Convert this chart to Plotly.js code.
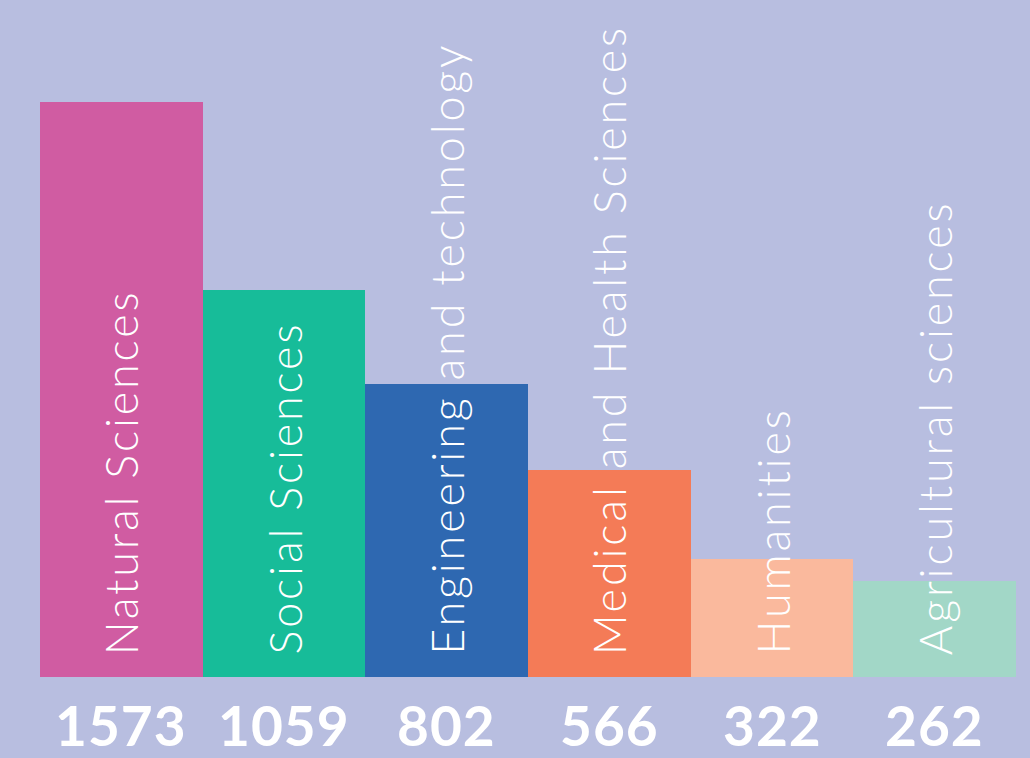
<!DOCTYPE html>
<html>
<head>
<meta charset="utf-8">
<script src="https://cdn.plot.ly/plotly-3.0.1.min.js"></script>
<style>html,body{margin:0;padding:0;background:#B8BEE0;}#chart{width:1030px;height:758px;}</style>
</head>
<body>
<div id="chart"></div>
<script>
const categories = ["Natural Sciences", "Social Sciences", "Engineering and technology", "Medical and Health Sciences", "Humanities", "Agricultural sciences"];
const values = [1573, 1059, 802, 566, 322, 262];
const colors = ["#D05CA2", "#17BC99", "#2E68B1", "#F47B57", "#FAB99D", "#A2D7C7"];

const trace = {
  type: "bar",
  x: categories,
  y: values,
  marker: {color: colors, line: {width: 0}},
  hoverinfo: "none"
};

const annotations = [];
categories.forEach((c, i) => {
  annotations.push({
    x: c, y: 0, xref: "x", yref: "y",
    text: '<span style="letter-spacing:2.8px">' + c + '</span>', textangle: -90, showarrow: false,
    xanchor: "center", yanchor: "bottom", yshift: 20,
    font: {family: "Lato", weight: 300, size: 45, color: "#FFFFFF"}
  });
  annotations.push({
    x: c, y: 0, xref: "x", yref: "y",
    text: '<span style="letter-spacing:1px">' + String(values[i]) + '</span>', showarrow: false,
    xanchor: "center", yanchor: "middle", yshift: -48,
    font: {family: "Lato", weight: 700, size: 55, color: "#FFFFFF"}
  });
});

const layout = {
  width: 1030, height: 758,
  margin: {l: 40, r: 14, t: 0, b: 81},
  paper_bgcolor: "#B8BEE0",
  plot_bgcolor: "#B8BEE0",
  bargap: 0,
  showlegend: false,
  xaxis: {showticklabels: false, showgrid: false, zeroline: false, showline: false, ticks: ""},
  yaxis: {range: [0, 1852], showticklabels: false, showgrid: false, zeroline: false, showline: false, ticks: ""},
  annotations: annotations
};

Plotly.newPlot("chart", [trace], layout, {displayModeBar: false, staticPlot: true});
</script>
</body>
</html>
